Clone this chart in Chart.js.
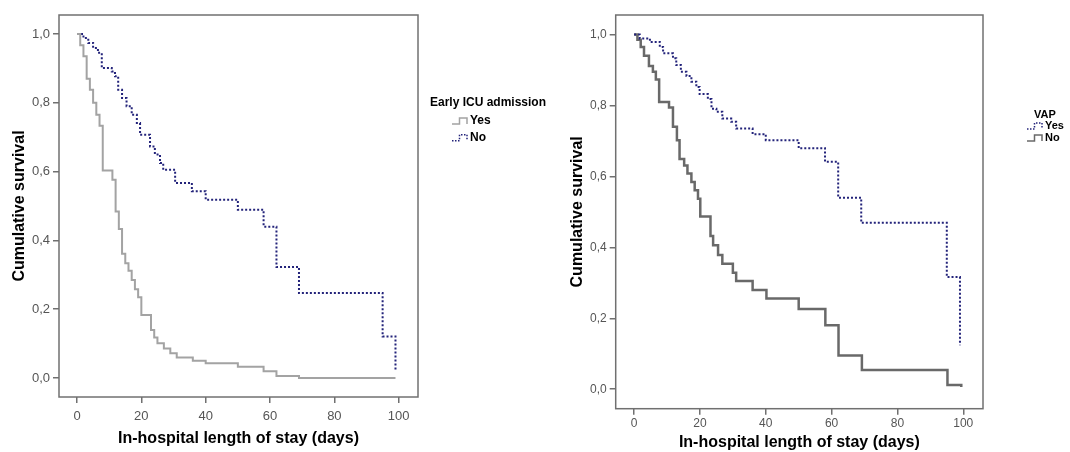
<!DOCTYPE html>
<html>
<head>
<meta charset="utf-8">
<script src="https://cdn.jsdelivr.net/npm/chart.js@4.4.1/dist/chart.umd.min.js"></script>
<style>
    html, body { margin: 0; padding: 0; background: #fff; }
    #wrap { position: relative; width: 1070px; height: 452px; overflow: hidden; }
    .panel { position: absolute; top: 0; height: 452px; }
</style>
</head>
<body>
<div id="wrap">
    <div class="panel" style="left:0;width:560px"><canvas id="leftChart"></canvas></div>
    <div class="panel" style="left:560px;width:510px"><canvas id="rightChart"></canvas></div>
</div>
<script>
// Axis ticks
const xTicks = [0, 20, 40, 60, 80, 100];
const yTicks = [0, 0.2, 0.4, 0.6, 0.8, 1.0];

// Left panel: Early ICU admission (time in days, survival after the step)
const icuYesTime = [0, 1, 2, 3, 4, 5, 6, 7, 8, 11, 12, 13, 14, 15, 16, 17, 18, 19, 20, 23, 24, 25, 27, 29, 31, 36, 40, 50, 58, 62, 69, 99];
const icuYesSurv = [1.0, 0.967, 0.935, 0.87, 0.838, 0.80, 0.765, 0.733, 0.603, 0.576, 0.484, 0.433, 0.361, 0.334, 0.312, 0.285, 0.258, 0.235, 0.183, 0.14, 0.118, 0.101, 0.086, 0.072, 0.06, 0.05, 0.043, 0.033, 0.02, 0.006, 0.0, 0.0];
const icuNoTime = [0, 2, 3.5, 5, 6.5, 7.7, 10.8, 11.8, 12.8, 14, 15.4, 17, 18.6, 19.6, 22.7, 24.2, 25.8, 26.8, 30.5, 35.7, 40, 50, 58, 62, 69, 95, 99];
const icuNoSurv = [1.0, 0.988, 0.974, 0.959, 0.945, 0.901, 0.891, 0.877, 0.838, 0.814, 0.79, 0.765, 0.741, 0.707, 0.673, 0.65, 0.625, 0.605, 0.567, 0.543, 0.518, 0.489, 0.44, 0.323, 0.247, 0.121, 0.02];

// Right panel: VAP
const vapYesTime = [0, 1.7, 4.8, 7.8, 8.8, 11.8, 12.8, 14.2, 15.9, 17.4, 18.9, 19.9, 22.4, 23.5, 25, 26.8, 29.5, 31, 36, 40, 50, 58, 62, 69, 95, 99];
const vapYesSurv = [1.0, 0.989, 0.979, 0.965, 0.947, 0.933, 0.914, 0.895, 0.883, 0.867, 0.852, 0.832, 0.818, 0.791, 0.782, 0.763, 0.754, 0.735, 0.719, 0.702, 0.679, 0.641, 0.54, 0.469, 0.316, 0.124];
const vapNoTime = [0, 1, 2, 3, 4.5, 5.7, 6.6, 7.6, 10.6, 11.8, 13, 13.8, 15.2, 16.2, 17.4, 18.4, 19.4, 20.1, 23.2, 24, 25.5, 26.8, 30, 31, 36, 40.2, 50, 58.1, 62.1, 69.2, 95.2, 99.4];
const vapNoSurv = [1.0, 0.985, 0.965, 0.94, 0.911, 0.895, 0.873, 0.81, 0.794, 0.74, 0.702, 0.649, 0.631, 0.608, 0.584, 0.561, 0.537, 0.487, 0.432, 0.406, 0.378, 0.354, 0.328, 0.305, 0.28, 0.256, 0.226, 0.18, 0.095, 0.054, 0.012, 0.006];

const FONT = "'Liberation Sans', Arial, sans-serif";
const NAVY = '#23237a';

function toPoints(times, surv) {
    return times.map((t, i) => ({ x: t, y: surv[i] }));
}

function decimalComma(v) {
    return v.toFixed(1).replace('.', ',');
}

// frame around the plot area + small SPSS style legend
function makeDecor(legend) {
    return {
        id: 'decor',
        afterDraw(chart) {
            const ctx = chart.ctx;
            const a = chart.chartArea;
            ctx.save();
            ctx.strokeStyle = '#707070';
            ctx.lineWidth = 1.5;
            ctx.strokeRect(a.left, a.top, a.right - a.left, a.bottom - a.top);

            ctx.fillStyle = '#000';
            ctx.textBaseline = 'middle';
            ctx.font = 'bold ' + legend.size + 'px ' + FONT;
            ctx.textAlign = 'center';
            ctx.fillText(legend.title, legend.titleX, legend.titleY);
            ctx.textAlign = 'left';
            legend.items.forEach((it, i) => {
                const y = legend.itemY + i * legend.gap;
                const x0 = legend.glyphX;
                const w = legend.glyphW;
                ctx.beginPath();
                ctx.strokeStyle = it.color;
                ctx.lineWidth = it.width;
                ctx.setLineDash(it.dash);
                ctx.moveTo(x0, y + 3);
                ctx.lineTo(x0 + w * 0.5, y + 3);
                ctx.lineTo(x0 + w * 0.5, y - 3);
                ctx.lineTo(x0 + w, y - 3);
                ctx.lineTo(x0 + w, y + 3);
                ctx.stroke();
                ctx.setLineDash([]);
                ctx.fillText(it.label, x0 + w + 3, y);
            });
            ctx.restore();
        }
    };
}

function makeChart(id, cfg) {
    return new Chart(document.getElementById(id), {
        type: 'line',
        data: { datasets: cfg.datasets },
        options: {
            responsive: true,
            maintainAspectRatio: false,
            animation: false,
            layout: { padding: { left: 0, top: 15, right: cfg.padRight, bottom: 0 } },
            plugins: { legend: { display: false }, tooltip: { enabled: false } },
            elements: { point: { radius: 0 } },
            scales: {
                x: {
                    type: 'linear',
                    min: -5.6,
                    max: 106,
                    afterBuildTicks: s => { s.ticks = xTicks.map(v => ({ value: v })); },
                    afterFit: s => { s.height = cfg.xAxisH; },
                    grid: { drawOnChartArea: false, drawTicks: true, tickLength: 6, color: '#707070', lineWidth: 1.5 },
                    border: { display: false },
                    ticks: { color: '#555', font: { family: FONT, size: cfg.tickSize }, padding: cfg.xTickPad, maxRotation: 0 },
                    title: {
                        display: true,
                        text: 'In-hospital length of stay (days)',
                        color: '#000',
                        font: { family: FONT, size: 16, weight: 'bold' },
                        padding: { top: 0, bottom: cfg.xTitlePad }
                    }
                },
                y: {
                    type: 'linear',
                    min: -0.055,
                    max: 1.055,
                    afterBuildTicks: s => { s.ticks = yTicks.map(v => ({ value: v })); },
                    afterFit: s => { s.width = cfg.yAxisW; },
                    grid: { drawOnChartArea: false, drawTicks: true, tickLength: 6, color: '#707070', lineWidth: 1.5 },
                    border: { display: false },
                    ticks: { color: '#555', font: { family: FONT, size: cfg.tickSize }, padding: 3, callback: v => decimalComma(v) },
                    title: {
                        display: true,
                        text: 'Cumulative survival',
                        color: '#000',
                        font: { family: FONT, size: 16, weight: 'bold' },
                        padding: { top: cfg.yTitlePad, bottom: 0 }
                    }
                }
            }
        },
        plugins: [makeDecor(cfg.legend)]
    });
}

makeChart('leftChart', {
    padRight: 142,
    xAxisH: 55,
    yAxisW: 59,
    tickSize: 13,
    xTickPad: 6,
    xTitlePad: 4,
    yTitlePad: 10,
    datasets: [
        { label: 'Yes', data: toPoints(icuYesTime, icuYesSurv), stepped: 'before', borderColor: '#a3a3a3', borderWidth: 2, fill: false },
        { label: 'No', data: toPoints(icuNoTime, icuNoSurv), stepped: 'before', borderColor: NAVY, borderWidth: 2, borderDash: [2, 2], fill: false }
    ],
    legend: {
        title: 'Early ICU admission', size: 12, titleX: 488, titleY: 103,
        glyphX: 452, glyphW: 15, itemY: 121, gap: 16.7,
        items: [
            { label: 'Yes', color: '#a3a3a3', width: 1.5, dash: [] },
            { label: 'No', color: NAVY, width: 1.5, dash: [1.5, 1.5] }
        ]
    }
});

makeChart('rightChart', {
    padRight: 87,
    xAxisH: 43.3,
    yAxisW: 55.7,
    tickSize: 12,
    xTickPad: 2,
    xTitlePad: 0,
    yTitlePad: 8.4,
    datasets: [
        { label: 'Yes', data: toPoints(vapYesTime, vapYesSurv), stepped: 'before', borderColor: NAVY, borderWidth: 2, borderDash: [2, 2], fill: false },
        { label: 'No', data: toPoints(vapNoTime, vapNoSurv), stepped: 'before', borderColor: '#696969', borderWidth: 2.5, fill: false }
    ],
    legend: {
        title: 'VAP', size: 11, titleX: 1045 - 560, titleY: 115,
        glyphX: 1027 - 560, glyphW: 15, itemY: 126, gap: 12,
        items: [
            { label: 'Yes', color: NAVY, width: 1.5, dash: [1.5, 1.5] },
            { label: 'No', color: '#696969', width: 1.5, dash: [] }
        ]
    }
});
</script>
</body>
</html>
